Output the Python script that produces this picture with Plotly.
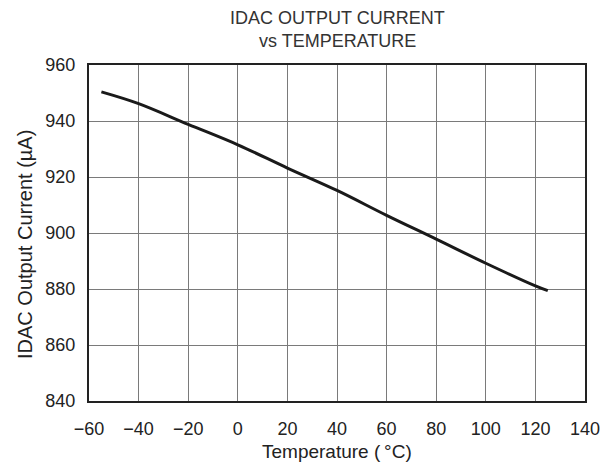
import plotly.graph_objects as go

temperature = [-55, -40, -20, 0, 20, 40, 60, 80, 100, 120, 125]
current = [950.4, 946.2, 938.8, 931.5, 923.2, 915.2, 906.3, 897.8, 889.2, 881.1, 879.4]

x_ticks = [-60, -40, -20, 0, 20, 40, 60, 80, 100, 120, 140]
x_tick_text = ["\u221260", "\u221240", "\u221220", "0", "20", "40", "60", "80", "100", "120", "140"]
y_ticks = [840, 860, 880, 900, 920, 940, 960]

title_lines = ["IDAC OUTPUT CURRENT", "vs TEMPERATURE"]
x_title = "Temperature (\u2009\u00b0C)"
y_title = "IDAC Output Current (\u00b5A)"

font_family = "Liberation Sans, Arial, sans-serif"
W, H = 613, 466
L, R, T, B = 89, 28, 65, 65
ph = H - T - B
pw = W - L - R

def py(pix):
    return 1 + (T - pix) / ph

def px(pix):
    return (pix - L) / pw

fig = go.Figure()
fig.add_trace(go.Scatter(
    x=temperature, y=current, mode="lines",
    line=dict(color="#1a1a1a", width=3, shape="spline"),
    showlegend=False, hoverinfo="skip",
))

fig.update_layout(
    width=W, height=H,
    margin=dict(l=L, r=R, t=T, b=B),
    paper_bgcolor="white", plot_bgcolor="white",
    font=dict(family=font_family, size=18, color="#222"),
    xaxis=dict(
        range=[-60, 140], tickmode="array", tickvals=x_ticks, ticktext=x_tick_text,
        showgrid=True, gridcolor="#7a7a7a", gridwidth=1,
        showline=True, linecolor="#222", linewidth=2, mirror=True,
        ticks="outside", ticklen=10, tickcolor="rgba(0,0,0,0)",
        zeroline=False, automargin=False,
        tickfont=dict(size=18),
    ),
    yaxis=dict(
        range=[840, 960], tickmode="array", tickvals=y_ticks,
        showgrid=True, gridcolor="#7a7a7a", gridwidth=1,
        showline=True, linecolor="#222", linewidth=2, mirror=True,
        ticks="outside", ticklen=8, tickcolor="rgba(0,0,0,0)",
        zeroline=False, automargin=False,
        tickfont=dict(size=18),
    ),
)

for line, pix in zip(title_lines, [18.5, 41.5]):
    fig.add_annotation(
        text=line, xref="paper", yref="paper", x=0.5, y=py(pix),
        xanchor="center", yanchor="middle", showarrow=False,
        font=dict(family=font_family, size=18, color="#333"),
    )

fig.add_annotation(
    text=x_title, xref="paper", yref="paper", x=0.5, y=py(452),
    xanchor="center", yanchor="middle", showarrow=False,
    font=dict(family=font_family, size=19, color="#222"),
)
fig.add_annotation(
    text=y_title, xref="paper", yref="paper", x=px(25), y=py(245),
    xanchor="center", yanchor="middle", showarrow=False, textangle=-90,
    font=dict(family=font_family, size=20, color="#222"),
)

fig.write_html(
    "out.html",
    config={"displayModeBar": False},
    post_script="document.body.style.margin='0';document.body.style.overflow='hidden';",
)
